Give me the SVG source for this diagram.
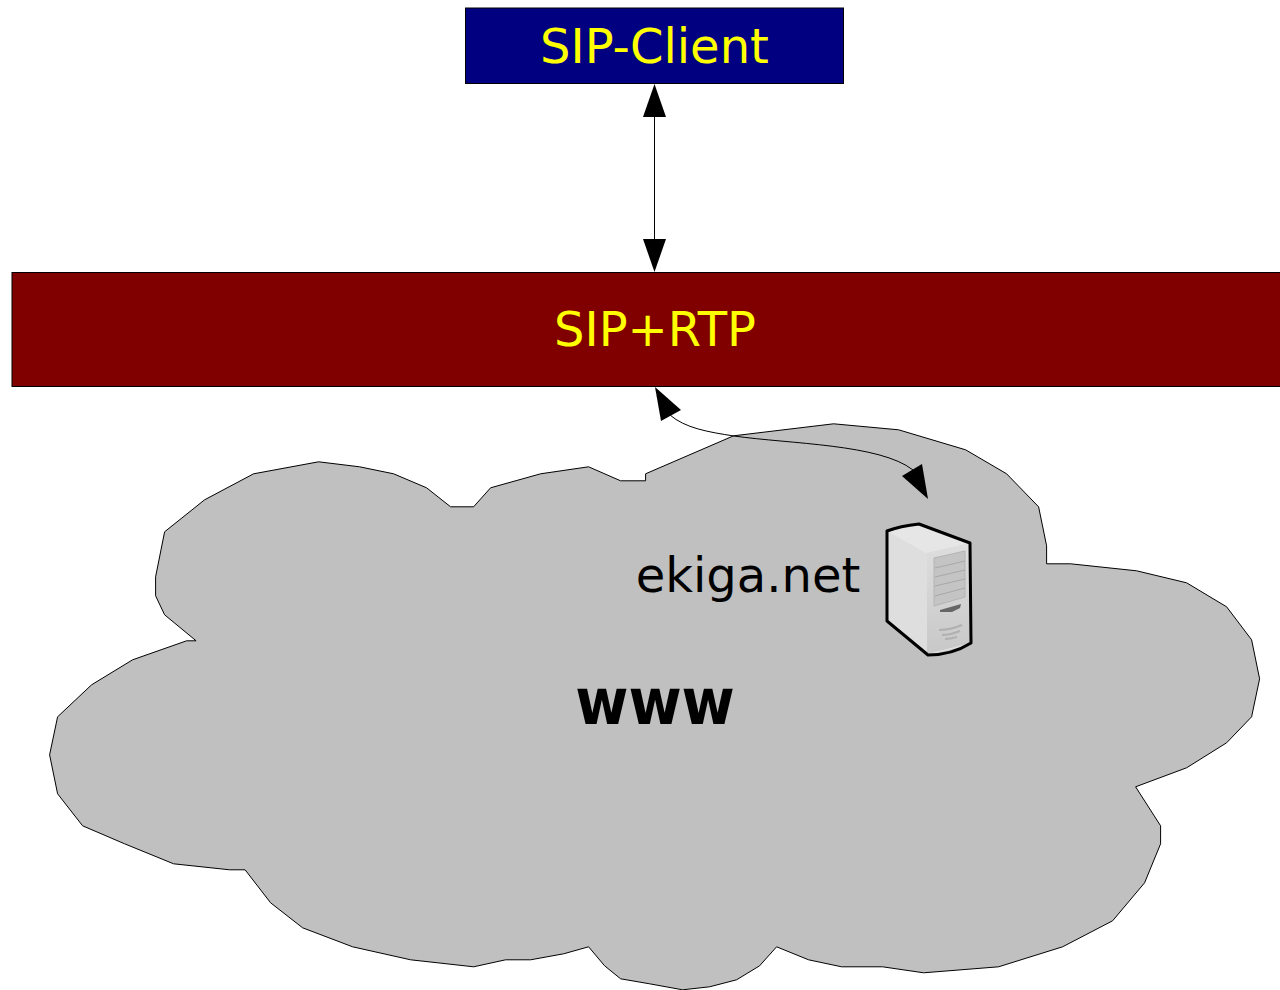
<svg xmlns="http://www.w3.org/2000/svg" width="1280" height="990" viewBox="0 0 1280 990">
<style>
text{font-family:"DejaVu Sans",sans-serif;text-anchor:middle}
.y{fill:#ffff00}
.c{fill:none;stroke:#000;stroke-width:1}
.h{fill:#000;stroke:none}
.o{stroke:#000;stroke-width:1}
</style>
<defs>
<linearGradient id="front" x1="0" y1="0" x2="0" y2="1"><stop offset="0" stop-color="#dedede"/><stop offset="1" stop-color="#c8c8c8"/></linearGradient>
</defs>
<rect width="1280" height="990" fill="#fff"/>
<g id="cloud">
<path class="o" fill="#c0c0c0" transform="translate(-.4 -.2)" d="M734 436L834 424L899 430L966 450L1007 474L1039 507L1047 546V564H1071L1137 571L1187 583L1227 607L1252 640L1260 679L1252 717L1227 743L1187 768L1136 787L1161 826V844L1145 883L1113 921L1063 947L999 967L924 973L883 967H842L809 960L777 947L760 966L737 980L710 987L683 990L650 984L621 979L605 966L589 947L564 954L531 960H506L474 967L411 960L353 947L303 928L271 903L245.500 870H230L174 864L125 844L83 826L58 794L50 755L58 717L92 685L133 660L187 641H196.500L165 615L156 596V577L165 532L205 500L254 474L319 462L360 467L394 474L427 488L451 507H474L491 488L541 474L589 467L621 481H646V474Z"/>
<text transform="translate(655 724) scale(.9 1)" font-size="64" font-weight="bold">www</text>
</g>
<g id="sip-client">
<rect x="465.500" y="8" width="378" height="75.500" fill="#000080" stroke="#000"/>
<text class="y" x="654.500" y="63" font-size="48">SIP-Client</text>
</g>
<g id="sip-rtp">
<rect x="12" y="272.500" width="1270" height="114" fill="#800000" stroke="#000"/>
<text class="y" x="655" y="346" font-size="48">SIP+RTP</text>
</g>
<g id="ekiga">
<text x="748" y="592" font-size="48">ekiga.net</text>
<g id="server">
<path fill="#dedede" d="M887 531L919 524L970 543L971 645L928 655L887 621Z"/>
<path fill="#e6e6e6" d="M887 531L919 524L970 543L926 553Z"/>
<path fill="url(#front)" d="M927 553L970 543V643L927 654Z"/>
<path fill="#c4c4c4" stroke="#b4b4b4" stroke-width="1" d="M934 558L965 551V597L934 606Z"/>
<path fill="none" stroke="#a8a8a8" stroke-width="1" d="M935 568L965 561M935 577L965 570M935 586L965 579M935 596L965 588"/>
<path fill="#666" d="M940 610L961 604L960 608L952 612H940Z"/>
<path fill="none" stroke="#b0b0b0" stroke-width="2" d="M939 630Q950 630 962 625M942 635Q950 635 960 631M945 639Q950 639 957 637"/>
<path fill="none" stroke="#000" stroke-width="3" stroke-linejoin="round" d="M887 531Q900 526 919 524L970 543L971 643Q952 655 928 655L887 621Z"/>
</g>
</g>
<g id="connectors">
<path class="c" d="M654.500 105V250"/>
<path class="h" d="M654.500 84L666 117H643Z"/>
<path class="h" d="M654.500 272L643 239H666Z"/>
<path class="c" d="M670 415C685 428 708 432 734 436C790 444 880 444 913 470"/>
<path class="h" d="M655 387L681 410L661 421Z"/>
<path class="h" d="M928 499L902 476L922 464Z"/>
</g>
</svg>
